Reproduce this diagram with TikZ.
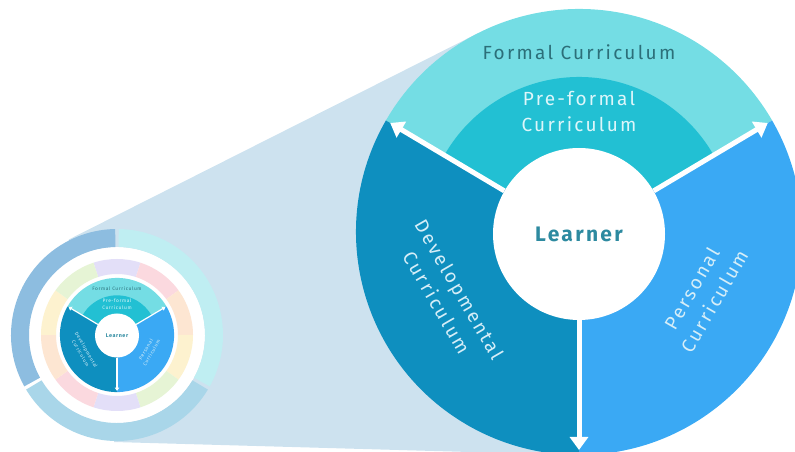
\documentclass[tikz,border=0pt]{standalone}
\usepackage{fontspec}
\setmainfont{Fira Sans}
\newfontfamily\lblfont[LetterSpace=12]{Fira Sans}
\newfontfamily\lrnfont[LetterSpace=11]{Fira Sans}
\usetikzlibrary{arrows.meta}
\definecolor{formalc}{HTML}{74DDE4}
\definecolor{preformalc}{HTML}{22C0D3}
\definecolor{devc}{HTML}{0E8FBF}
\definecolor{persc}{HTML}{3AA9F4}
\definecolor{funnelc}{HTML}{CDE2EF}
\definecolor{formaltxt}{HTML}{2C6F79}
\definecolor{learnertxt}{HTML}{2D8AA0}
\definecolor{pretxt}{HTML}{DDF6FA}
\definecolor{sidetxt}{HTML}{D6EEF8}
\definecolor{ringL}{HTML}{8DBDE0}
\definecolor{ringB}{HTML}{A9D6E9}
\definecolor{ringR}{HTML}{BFEEF2}
\definecolor{lav}{HTML}{E3DFF8}
\definecolor{pnk}{HTML}{FBD9DF}
\definecolor{pch}{HTML}{FDE6D2}
\definecolor{ylw}{HTML}{FDF2CF}
\definecolor{grn}{HTML}{E6F4D5}
\tikzset{
  lbl/.style={align=center, inner sep=0pt, font=\lblfont\fontsize{19}{26}\selectfont},
  sepline/.style={white, -{Triangle[length=0pt 2.6, width=0pt 3.6]}},
  core/.pic={
    \fill[formalc] (0,0) -- (150:223pt) arc[start angle=150, end angle=30, radius=223pt] -- cycle;
    \fill[preformalc] (0,0) -- (150:155pt) arc[start angle=150, end angle=30, radius=155pt] -- cycle;
    \fill[devc] (0,0) -- (150:223pt) arc[start angle=150, end angle=270, radius=223pt] -- cycle;
    \fill[persc] (0,0) -- (270:223pt) arc[start angle=270, end angle=390, radius=223pt] -- cycle;
    \node[circle, fill=white, minimum size=172pt, inner sep=0pt, text=learnertxt,
          font=\lrnfont\bfseries\fontsize{21}{24}\selectfont] (-learner) at (0,-2pt) {Learner};
    \coordinate (-tl) at (150:218pt);
    \coordinate (-tr) at (30:218pt);
    \coordinate (-tb) at (270:218pt);
    \draw[sepline, line width=#1] (-learner.150) -- (-tl);
    \draw[sepline, line width=#1] (-learner.30) -- (-tr);
    \draw[sepline, line width=#1] (-learner.270) -- (-tb);
    \node[lbl, text=formaltxt] (-formal) at (0pt,180pt) {Formal Curriculum};
    \node[lbl, text=pretxt] (-preformal) at (0pt,121pt) {Pre-formal\\Curriculum};
    \node[lbl, text=sidetxt, rotate=-60] (-dev) at (-131pt,-64pt) {Developmental\\Curriculum};
    \node[lbl, text=sidetxt, rotate=60] (-pers) at (124pt,-63pt) {Personal\\Curriculum};
  }
}
\begin{document}
\begin{tikzpicture}
\useasboundingbox (0,0) rectangle (795pt,452pt);
\clip (0,0) rectangle (795pt,452pt);
% funnel
\fill[funnelc] (68.8pt,212.5pt) -- (478.6pt,419.1pt) -- (579pt,220pt) -- (572.7pt,-2.9pt) -- (114pt,10pt) -- (117pt,117pt) -- cycle;
% small diagram
\begin{scope}[shift={(117pt,117pt)}]
  \fill[white] (0,0) circle[radius=88pt];
  \fill[ringL] (91:88pt) arc[start angle=91, end angle=209, radius=88pt] -- (209:106pt) arc[start angle=209, end angle=91, radius=106pt] -- cycle;
  \fill[ringB] (211:88pt) arc[start angle=211, end angle=329, radius=88pt] -- (329:106pt) arc[start angle=329, end angle=211, radius=106pt] -- cycle;
  \fill[ringR] (331:88pt) arc[start angle=331, end angle=449, radius=88pt] -- (449:106pt) arc[start angle=449, end angle=331, radius=106pt] -- cycle;
  \foreach \a/\c in {90/lav,54/pnk,18/pch,-18/ylw,-54/grn,-90/lav,-126/pnk,-162/pch,162/ylw,126/grn}{
    \fill[\c] ({\a-18}:61pt) arc[start angle={\a-18}, end angle={\a+18}, radius=61pt] -- ({\a+18}:76pt) arc[start angle={\a+18}, end angle={\a-18}, radius=76pt] -- cycle;
  }
  \pic[scale=0.256, transform shape] (small) at (0,0) {core=1.2pt};
\end{scope}
% big diagram
\pic (big) at (579pt,220pt) {core=5pt};
\end{tikzpicture}
\end{document}
